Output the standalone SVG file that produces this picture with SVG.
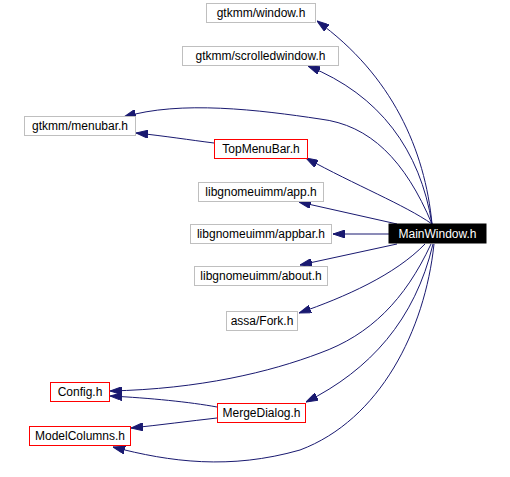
<svg xmlns="http://www.w3.org/2000/svg" width="510" height="477" viewBox="0 0 510 477">
<style>
.ext rect{fill:#fff;stroke:#bfbfbf;stroke-width:1}
.doc rect{fill:#fff;stroke:#ff0000;stroke-width:1}
.cur rect{fill:#000;stroke:#000;stroke-width:1}
text{font-family:"Liberation Sans",Arial,sans-serif;font-size:12px;text-anchor:middle;fill:#000}
.cur text{fill:#fff}
#edges path{fill:none;stroke:#191970;stroke-width:1;marker-end:url(#ah)}
</style>
<defs>
<marker id="ah" viewBox="0 0 12 8" refX="12" refY="4" markerWidth="12" markerHeight="8" orient="auto" markerUnits="userSpaceOnUse">
<path d="M0,0 L12,4 L0,8 z" fill="#191970" stroke="#191970"/>
</marker>
</defs>
<rect width="510" height="477" fill="#fff"/>
<g id="edges">
<path d="M432,224 C425,150 392,75 317,21"/>
<path d="M432,224 C420,150 380,95 308,66"/>
<path d="M432,224 C405,160 370,125 320,119 C260,110 180,100 124,117"/>
<path d="M214,143 C190,140 165,136 136,133"/>
<path d="M432,224 C405,205 355,185 306,158"/>
<path d="M397,224 L299,202"/>
<path d="M389,234 L333,234"/>
<path d="M397,244 L300,265"/>
<path d="M425,244 C395,275 345,297 299,313"/>
<path d="M431,244 C405,300 370,335 320,353 C270,372 200,389 110,391"/>
<path d="M217,407 C190,402 150,398 110,396"/>
<path d="M433,244 C415,320 370,370 306,402"/>
<path d="M217,418 C190,421 160,425 131,428"/>
<path d="M434,244 C425,330 380,420 300,450 C230,470 170,462 113,447"/>
</g>
<g id="n_window" class="ext"><rect x="206.5" y="3.5" width="109" height="19"/><text x="261" y="17">gtkmm/window.h</text></g>
<g id="n_scrolled" class="ext"><rect x="182.5" y="46.5" width="156" height="19"/><text x="260.5" y="60">gtkmm/scrolledwindow.h</text></g>
<g id="n_menubar" class="ext"><rect x="24.5" y="116.5" width="111" height="19"/><text x="80" y="130">gtkmm/menubar.h</text></g>
<g id="n_topmenubar" class="doc"><rect x="214.5" y="139.5" width="93" height="19"/><text x="261" y="153">TopMenuBar.h</text></g>
<g id="n_app" class="ext"><rect x="198.5" y="182.5" width="125" height="19"/><text x="261" y="196">libgnomeuimm/app.h</text></g>
<g id="n_appbar" class="ext"><rect x="190.5" y="224.5" width="141" height="19"/><text x="261" y="238">libgnomeuimm/appbar.h</text></g>
<g id="n_mainwindow" class="cur"><rect x="389" y="224" width="97" height="19"/><text x="437.5" y="238">MainWindow.h</text></g>
<g id="n_about" class="ext"><rect x="194.5" y="266.5" width="133" height="19"/><text x="261" y="280">libgnomeuimm/about.h</text></g>
<g id="n_fork" class="ext"><rect x="226.5" y="311.5" width="71" height="19"/><text x="262" y="325">assa/Fork.h</text></g>
<g id="n_config" class="doc"><rect x="50.5" y="382.5" width="59" height="19"/><text x="80" y="396">Config.h</text></g>
<g id="n_merge" class="doc"><rect x="217.5" y="403.5" width="88" height="19"/><text x="261.5" y="417">MergeDialog.h</text></g>
<g id="n_modelcols" class="doc"><rect x="29.5" y="426.5" width="101" height="19"/><text x="80" y="440">ModelColumns.h</text></g>
</svg>
